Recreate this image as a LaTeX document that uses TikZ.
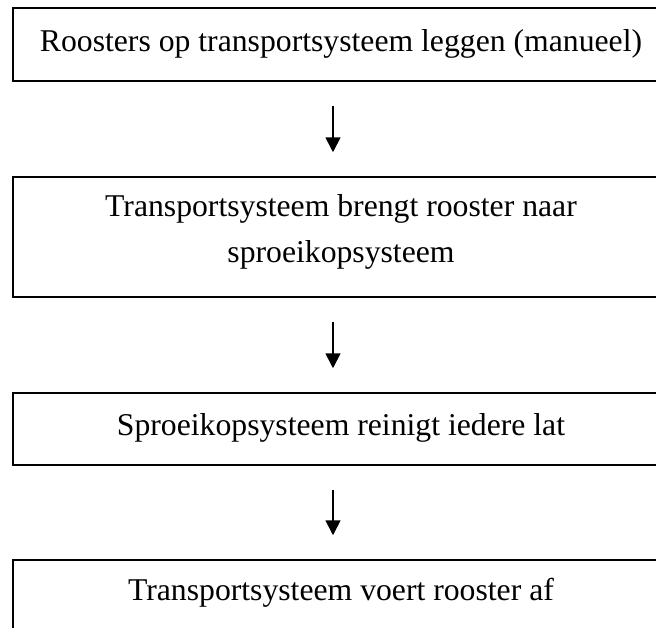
\documentclass[tikz,border=0pt]{standalone}
\usepackage{fontspec}
\setmainfont{Liberation Serif}
\usetikzlibrary{arrows.meta}
\tikzset{
  stepbox/.style={draw=black, line width=1.5pt, rectangle, inner sep=0pt,
    minimum width=656pt, font=\fontsize{31.7}{46}\selectfont, align=center},
  onebox/.style={stepbox, text height=20pt, text depth=7pt},
  flowarrow/.style={line width=1.7pt, -{Triangle[width=15pt,length=15pt]},
    shorten <=24pt, shorten >=24pt}
}
\begin{document}
\begin{tikzpicture}[x=1pt,y=1pt]
\useasboundingbox (0,0) rectangle (656,-627);
\clip (0,0) rectangle (656,-627);
\node[onebox, minimum height=73pt] (b1) at (341,-44.5) {Roosters op transportsysteem leggen (manueel)};
\node[stepbox, minimum height=120pt, text height=68pt, text depth=18pt] (b2) at (341,-237) {Transportsysteem brengt rooster naar\\sproeikopsysteem};
\node[onebox, minimum height=72pt] (b3) at (341,-429) {Sproeikopsysteem reinigt iedere lat};
\node[stepbox, minimum height=80pt, text height=10pt, text depth=10pt] (b4) at (341,-600) {Transportsysteem voert rooster af};
\draw[flowarrow] ([xshift=-8pt]b1.south) -- ([xshift=-8pt]b2.north);
\draw[flowarrow] ([xshift=-8pt]b2.south) -- ([xshift=-8pt]b3.north);
\draw[flowarrow] ([xshift=-8pt]b3.south) -- ([xshift=-8pt]b4.north);
\end{tikzpicture}
\end{document}
